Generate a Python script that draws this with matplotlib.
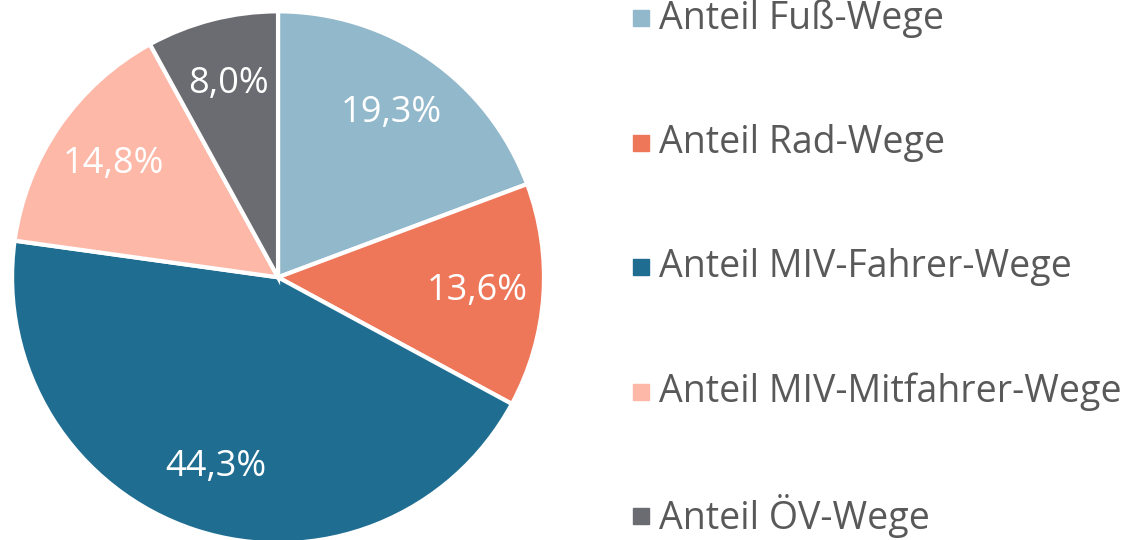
import matplotlib.pyplot as plt
from matplotlib.lines import Line2D

# Data
labels = ['Anteil Fuß-Wege', 'Anteil Rad-Wege', 'Anteil MIV-Fahrer-Wege',
          'Anteil MIV-Mitfahrer-Wege', 'Anteil ÖV-Wege']
values = [19.3, 13.6, 44.3, 14.8, 8.0]
colors = ['#92B8CB', '#EE7659', '#1F6E92', '#FDB8A8', '#6B6C71']

plt.rcParams['font.family'] = ['Open Sans', 'DejaVu Sans']

fig = plt.figure(figsize=(11.33, 5.4), dpi=100)
ax = fig.add_axes([0.0106, -0.006, 0.4696, 0.985])

wedges, texts, autotexts = ax.pie(
    values, colors=colors, startangle=90, counterclock=False,
    autopct=lambda p: f'{p:.1f}%'.replace('.', ','), pctdistance=0.75,
    wedgeprops=dict(edgecolor='white', linewidth=3),
    textprops=dict(color='white', fontsize=26))
ax.set_xlim(-1, 1)
ax.set_ylim(-1, 1)
ax.set_aspect('equal')

# Legend drawn by hand for exact spacing
y0, step = 0.966, 0.2305
for i, (lab, col) in enumerate(zip(labels, colors)):
    y = y0 - i * step
    fig.add_artist(Line2D([0.5655], [y], marker='s', markersize=12,
                          color=col, linestyle='none', transform=fig.transFigure))
    fig.text(0.5815, y, lab, fontsize=27, color='#595959',
             va='center', ha='left')

fig.savefig('out.png', dpi=100)
